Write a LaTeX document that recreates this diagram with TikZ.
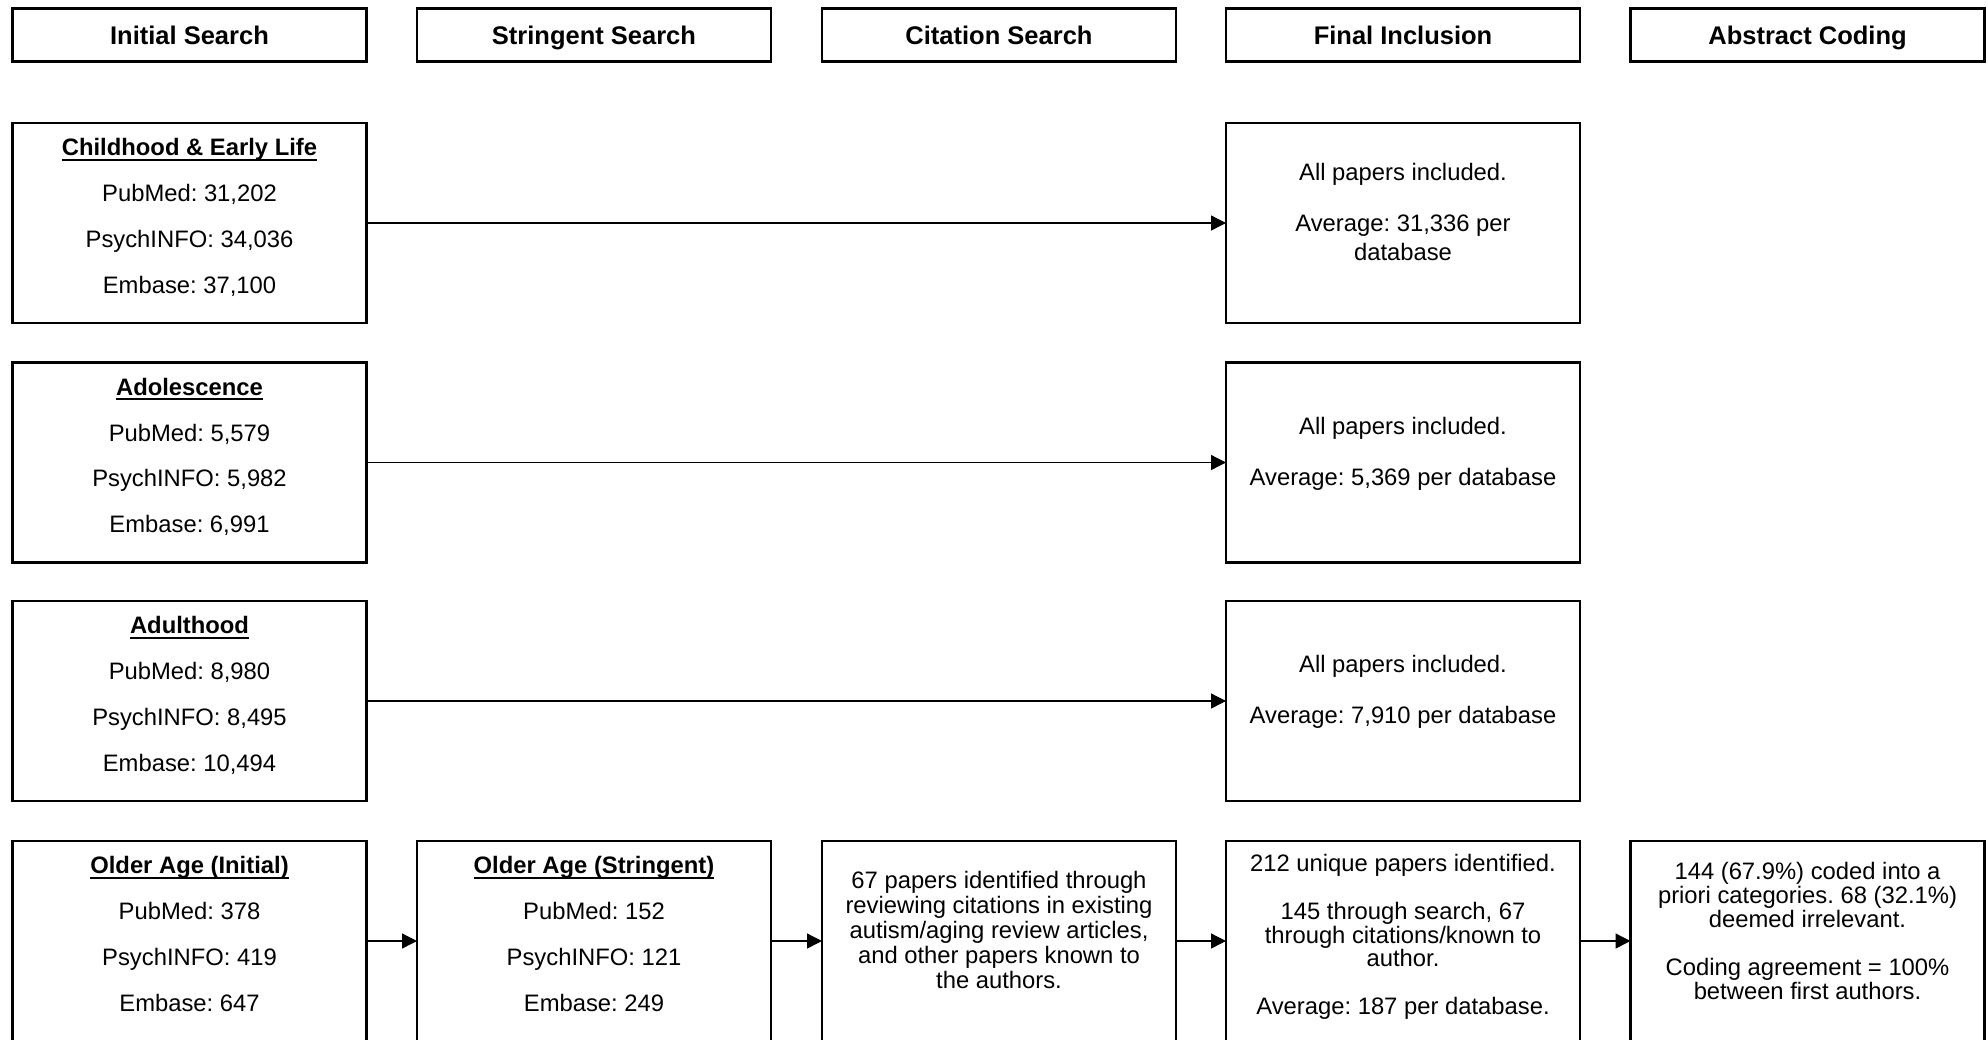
\documentclass[tikz,border=0pt]{standalone}
\usepackage{fontspec}
\setmainfont{Liberation Sans}
\usetikzlibrary{arrows.meta,calc}
\frenchspacing
\newcommand\bodyf{\fontsize{23.8}{24}\selectfont}
\newcommand\headf{\fontsize{25.5}{26}\selectfont\bfseries}
\newcommand\ttl[1]{\bfseries\setbox0\hbox{#1}\rlap{\rule[-5pt]{\wd0}{1.8pt}}\box0}
\newcommand\tline[4]{\node[txt,yshift=-#3pt] (#1) at (#2.north) {#4};}
\begin{document}
\begin{tikzpicture}[x=1pt,y=-1pt,
 box/.style={draw,line width=2.5pt,minimum width=354pt,inner sep=0pt,outer sep=0pt},
 tall/.style={box,minimum height=200pt},
 head/.style={box,minimum height=53pt,font=\headf,text height=18.6pt,text depth=0pt},
 txt/.style={anchor=base,inner sep=0pt,outer sep=0pt,font=\bodyf},
 arr/.style={line width=1.3pt,-{Triangle[length=15pt,width=15pt]}}]
\fill[white] (0,0) rectangle (1988,1039);
\useasboundingbox (0,0) rectangle (1988,1039);

% headers
\node[head] (h1) at (189.5,35) {Initial Search};
\node[head] (h2) at (594,35) {Stringent Search};
\node[head] (h3) at (999,35) {Citation Search};
\node[head] (h4) at (1403,35) {Final Inclusion};
\node[head] (h5) at (1807.5,35) {Abstract Coding};

% boxes
\node[tall] (r1c1) at (189.5,223) {};
\node[tall] (r1c4) at (1403,223) {};
\node[tall] (r2c1) at (189.5,462.5) {};
\node[tall] (r2c4) at (1403,462.5) {};
\node[tall] (r3c1) at (189.5,701) {};
\node[tall] (r3c4) at (1403,701) {};
\node[tall] (r4c1) at (189.5,941) {};
\node[tall] (r4c2) at (594,941) {};
\node[tall] (r4c3) at (999,941) {};
\node[tall] (r4c4) at (1403,941) {};
\node[tall] (r4c5) at (1807.5,941) {};

% row 1
\tline{a1}{r1c1}{32.5}{\ttl{Childhood \& Early Life}}
\tline{a2}{r1c1}{78.5}{PubMed: 31,202}
\tline{a3}{r1c1}{124}{PsychINFO: 34,036}
\tline{a4}{r1c1}{170}{Embase: 37,100}
\tline{b1}{r1c4}{57.5}{All papers included.}
\tline{b2}{r1c4}{108.5}{Average: 31,336 per}
\tline{b3}{r1c4}{137}{database}

% row 2
\tline{c1}{r2c1}{32.5}{\ttl{Adolescence}}
\tline{c2}{r2c1}{78.5}{PubMed: 5,579}
\tline{c3}{r2c1}{124}{PsychINFO: 5,982}
\tline{c4}{r2c1}{170}{Embase: 6,991}
\tline{d1}{r2c4}{71.5}{All papers included.}
\tline{d2}{r2c4}{122.5}{Average: 5,369 per database}

% row 3
\tline{e1}{r3c1}{32.5}{\ttl{Adulthood}}
\tline{e2}{r3c1}{78.5}{PubMed: 8,980}
\tline{e3}{r3c1}{124}{PsychINFO: 8,495}
\tline{e4}{r3c1}{170}{Embase: 10,494}
\tline{f1}{r3c4}{71.5}{All papers included.}
\tline{f2}{r3c4}{122.5}{Average: 7,910 per database}

% row 4
\tline{g1}{r4c1}{32.5}{\ttl{Older Age (Initial)}}
\tline{g2}{r4c1}{78.5}{PubMed: 378}
\tline{g3}{r4c1}{124}{PsychINFO: 419}
\tline{g4}{r4c1}{170}{Embase: 647}
\tline{h1a}{r4c2}{32.5}{\ttl{Older Age (Stringent)}}
\tline{h2a}{r4c2}{78.5}{PubMed: 152}
\tline{h3a}{r4c2}{124}{PsychINFO: 121}
\tline{h4a}{r4c2}{170}{Embase: 249}
\tline{i1}{r4c3}{47}{67 papers identified through}
\tline{i2}{r4c3}{72}{reviewing citations in existing}
\tline{i3}{r4c3}{97}{autism/aging review articles,}
\tline{i4}{r4c3}{122}{and other papers known to}
\tline{i5}{r4c3}{147}{the authors.}
\tline{j1}{r4c4}{30}{212 unique papers identified.}
\tline{j2}{r4c4}{78}{145 through search, 67}
\tline{j3}{r4c4}{102}{through citations/known to}
\tline{j4}{r4c4}{125}{author.}
\tline{j5}{r4c4}{173}{Average: 187 per database.}
\tline{k1}{r4c5}{38}{144 (67.9\%) coded into a}
\tline{k2}{r4c5}{62}{priori categories. 68 (32.1\%)}
\tline{k3}{r4c5}{86}{deemed irrelevant.}
\tline{k4}{r4c5}{134}{Coding agreement = 100\%}
\tline{k5}{r4c5}{158}{between first authors.}

% connectors
\draw[arr] (r1c1.east) -- (r1c4.west);
\draw[arr] (r2c1.east) -- (r2c4.west);
\draw[arr] (r3c1.east) -- (r3c4.west);
\draw[arr] (r4c1.east) -- (r4c2.west);
\draw[arr] (r4c2.east) -- (r4c3.west);
\draw[arr] (r4c3.east) -- (r4c4.west);
\draw[arr] (r4c4.east) -- (r4c5.west);
\end{tikzpicture}
\end{document}
